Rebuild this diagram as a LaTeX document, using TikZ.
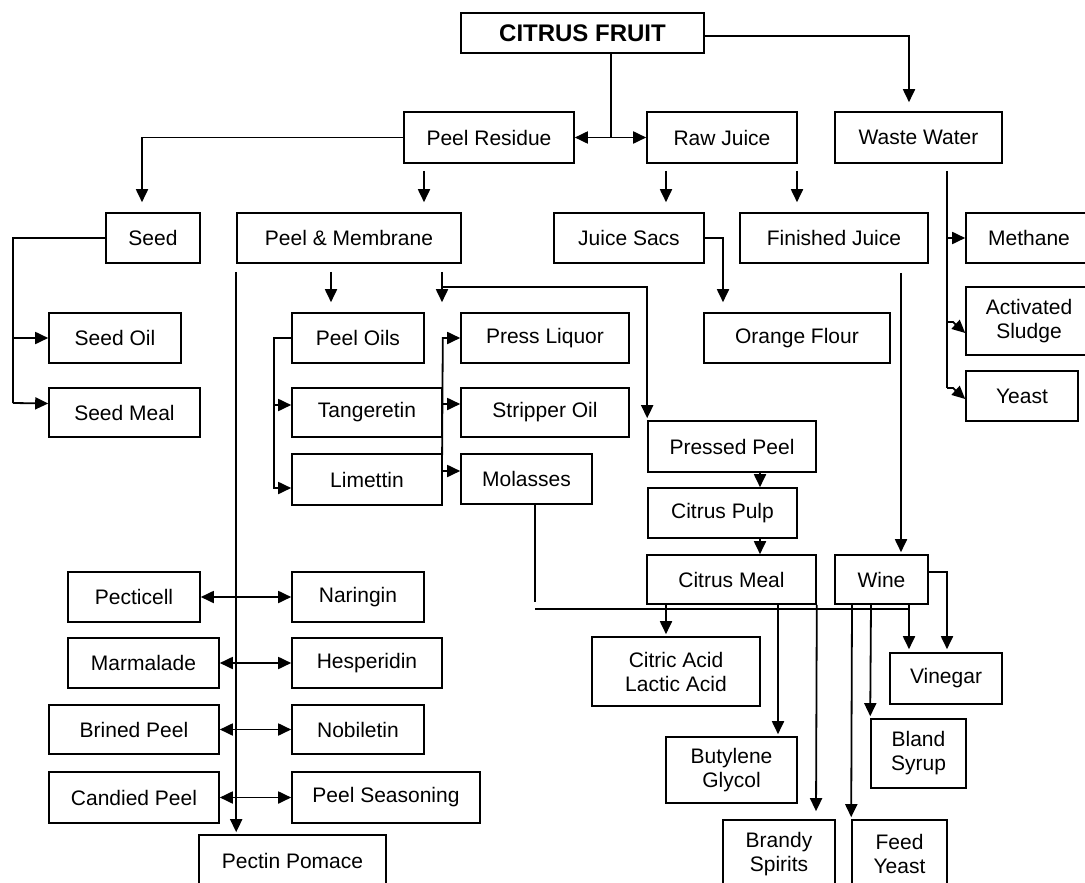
\documentclass[tikz,border=0pt]{standalone}
\usepackage{fontspec}
\setmainfont{Liberation Sans}
\usetikzlibrary{arrows.meta}

\tikzset{
	box/.style={draw, line width=1.6pt, inner sep=0pt, align=center,
		font=\fontsize{21}{24}\selectfont},
	wire/.style={line width=1.8pt},
	arr/.style={line width=1.8pt, -{Triangle[length=13pt, width=12pt]}},
	dbl/.style={line width=1.8pt,
		{Triangle[length=13pt, width=12pt]}-{Triangle[length=13pt, width=12pt]}}
}
\newcommand{\boxnode}[6]{\node[box, minimum width=#4-#2, minimum height=#5-#3]
	(#1) at ({(#2+#4)/2}, {(#3+#5)/2}) {#6};}

\begin{document}
\begin{tikzpicture}[x=1pt, y=-1pt]
		\useasboundingbox[fill=white] (0,0) rectangle (1085,883);
		\boxnode{cf}{461}{13}{704}{53}{\fontsize{24}{28}\selectfont\bfseries CITRUS FRUIT}
		\boxnode{pr}{404}{112}{574}{163}{Peel Residue}
		\boxnode{rj}{647}{112}{797}{163}{Raw Juice}
		\boxnode{ww}{835}{112}{1002}{163}{Waste Water}
		\boxnode{sd}{106}{213}{200}{263}{Seed}
		\boxnode{pm}{237}{213}{461}{263}{Peel \& Membrane}
		\boxnode{js}{554}{213}{704}{263}{Juice Sacs}
		\boxnode{fj}{740}{213}{928}{263}{Finished Juice}
		\boxnode{me}{966}{213}{1092}{263}{Methane}
		\boxnode{so}{49}{313}{181}{363}{Seed Oil}
		\boxnode{sm}{49}{388}{200}{437}{Seed Meal}
		\boxnode{po}{292}{313}{424}{363}{Peel Oils}
		\boxnode{pl}{461}{313}{629}{363}{Press Liquor}
		\boxnode{of}{704}{313}{890}{363}{Orange Flour}
		\boxnode{as}{966}{287}{1092}{355}{Activated\\Sludge}
		\boxnode{ye}{966}{371}{1078}{421}{Yeast}
		\boxnode{tg}{292}{388}{442}{437}{Tangeretin}
		\boxnode{st}{461}{388}{629}{437}{Stripper Oil}
		\boxnode{pp}{648}{421}{816}{472}{Pressed Peel}
		\boxnode{li}{292}{454}{442}{505}{Limettin}
		\boxnode{mo}{461}{454}{592}{504}{Molasses}
		\boxnode{cp}{648}{488}{797}{538}{Citrus Pulp}
		\boxnode{cm}{647}{555}{816}{604}{Citrus Meal}
		\boxnode{wi}{835}{555}{928}{604}{Wine}
		\boxnode{pc}{68}{572}{200}{622}{Pecticell}
		\boxnode{na}{292}{572}{424}{622}{Naringin}
		\boxnode{ca}{592}{637}{760}{706}{Citric Acid\\Lactic Acid}
		\boxnode{vi}{890}{653}{1002}{704}{Vinegar}
		\boxnode{ma}{68}{638}{219}{688}{Marmalade}
		\boxnode{he}{292}{638}{442}{688}{Hesperidin}
		\boxnode{bp}{49}{705}{219}{754}{Brined Peel}
		\boxnode{nb}{292}{705}{424}{754}{Nobiletin}
		\boxnode{bs}{871}{719}{966}{788}{Bland\\Syrup}
		\boxnode{bg}{666}{737}{797}{803}{Butylene\\Glycol}
		\boxnode{cd}{49}{772}{219}{823}{Candied Peel}
		\boxnode{ps}{292}{772}{480}{823}{Peel Seasoning}
		\boxnode{pe}{199}{835}{386}{886}{Pectin Pomace}
		\boxnode{br}{723}{820}{835}{888}{Brandy\\Spirits}
		\boxnode{fy}{852}{820}{947}{888}{Feed\\Yeast}

		\draw[wire] (cf.south -| 611,0) -- (pr.east -| 611,0);
		\draw[dbl] (pr.east) -- (rj.west);
		\draw[arr, shorten >=9pt] ([yshift=-3pt]cf.east) -| (ww.north -| 909,0);
		\draw[arr, shorten >=10pt] (pr.west) -| (sd.north -| 142,0);
		\draw[arr, shorten <=7pt, shorten >=10pt] (pr.south -| 424,0) -- (pm.north -| 424,0);
		\draw[arr, shorten <=7pt, shorten >=10pt] (rj.south -| 666,0) -- (js.north -| 666,0);
		\draw[arr, shorten <=7pt, shorten >=10pt] (rj.south -| 797,0) -- (fj.north -| 797,0);

		\draw[wire, shorten <=7pt] (ww.south -| 947,0) -- (947,388);
		\draw[arr] (me.west -| 947,0) -- (me.west);
		\draw[arr] (947,322) -- (953,322) -- ([yshift=-12pt]as.west);
		\draw[arr] (947,388) -- (953,388) -- ([yshift=-3pt]ye.west);

		\draw[arr, shorten >=10pt] (js.east) -| (of.north -| 723,0);
		\draw[arr, shorten <=9pt, shorten >=2pt] (fj.south -| 901,0) -- (wi.north -| 901,0);

		\draw[wire] (sd.west) -| (13,403);
		\draw[arr] (13,338) -- (so.west);
		\draw[arr] (13,403) -- ([yshift=9pt]sm.west);

		\draw[arr, shorten <=8pt, shorten >=2pt] (pm.south west) -- (pe.north -| pm.west);
		\draw[dbl] (pc.east) -- (na.west);
		\draw[dbl] (ma.east) -- (he.west);
		\draw[dbl] (bp.east) -- (nb.west);
		\draw[dbl] (cd.east) -- (ps.west);

		\draw[arr, shorten <=8pt, shorten >=10pt] (pm.south -| 331,0) -- (po.north -| 331,0);
		\draw[arr, shorten <=8pt, shorten >=10pt] (pm.south -| 442,0) -- (pl.north -| 442,0);
		\draw[arr, shorten >=2pt] (442,287) -| (pp.north west);

		\draw[arr] (po.west) -| (274,488) -- ([yshift=-8.5pt]li.west);
		\draw[arr] (274,405) -- ([yshift=7.5pt]tg.west);
		\draw[arr] (442,471) -- (tg.east |- pl.west) -- (pl.west);
		\draw[arr] (442,404) -- ([yshift=8.5pt]st.west);
		\draw[arr] (442,471) -- ([yshift=8pt]mo.west);

		\draw[arr] (pp.south -| 760,0) -- (cp.north -| 760,0);
		\draw[arr] (cp.south -| 760,0) -- (cm.north -| 760,0);

		\draw[wire] (mo.south -| 535,0) -- (535,602);
		\draw[wire] (535,609) -- (909,609);
		\draw[arr, shorten >=3pt] (wi.south -| 909,0) -- (vi.north -| 909,0);
		\draw[arr, shorten >=3pt] ([yshift=7.5pt]wi.east) -| (vi.north -| 947,0);

		\draw[arr, shorten >=2pt] (cm.south -| 666,0) -- (ca.north -| 666,0);
		\draw[arr, shorten >=2pt] (cm.south -| 778,0) -- (bg.north -| 778,0);
		\draw[arr, shorten >=8pt] (cm.south east) -- (br.north -| 816,0);
		\draw[arr, shorten >=2pt] (wi.south -| 852,0) -- (fy.north west);
		\draw[arr, shorten >=2pt] (wi.south -| 871,0) -- (bs.north west);
	\end{tikzpicture}
\end{document}
